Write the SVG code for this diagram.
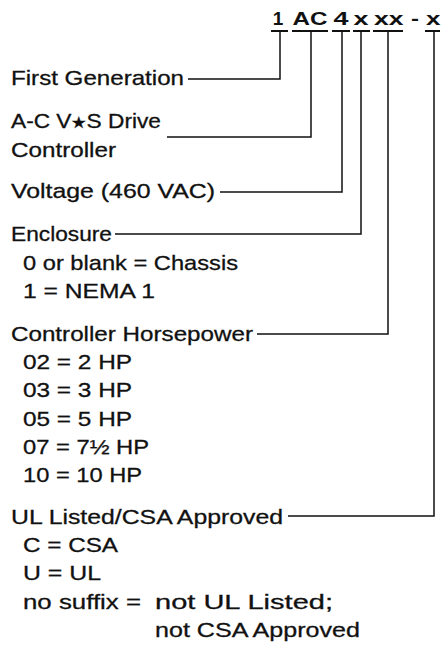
<svg xmlns="http://www.w3.org/2000/svg" width="442" height="657" viewBox="0 0 442 657">
<style>
.t{font-family:"Liberation Sans",Arial,sans-serif;font-size:21px;fill:#111;stroke:#111;stroke-width:0.3}
.h{font-family:"Liberation Sans",Arial,sans-serif;font-size:19px;font-weight:bold;fill:#111}
.c{stroke:#111;stroke-width:1.5;fill:none}
.u{stroke:#111;stroke-width:2;fill:none}
.s{font-size:16px}
</style>
<rect width="442" height="657" fill="#fff"/>
<g id="header">
<text class="h" x="278" y="25" text-anchor="middle">1</text>
<text class="h" x="292.5" y="25" textLength="35" lengthAdjust="spacingAndGlyphs">AC</text>
<text class="h" x="333.5" y="25" textLength="15" lengthAdjust="spacingAndGlyphs">4</text>
<text class="h" x="353.5" y="25" textLength="15" lengthAdjust="spacingAndGlyphs">x</text>
<text class="h" x="374" y="25" textLength="29.5" lengthAdjust="spacingAndGlyphs">xx</text>
<text class="h" x="411" y="25" textLength="8" lengthAdjust="spacingAndGlyphs">-</text>
<text class="h" x="426" y="25" textLength="14.5" lengthAdjust="spacingAndGlyphs">x</text>
<path class="u" d="M271 31H288M292 31H328M332 31H350M353 31H370M373 31H403M425 31H440"/>
</g>
<g id="connectors">
<path class="c" d="M188 79H280V31"/>
<path class="c" d="M167 137H311V31"/>
<path class="c" d="M220 192H342V31"/>
<path class="c" d="M115 234H361V31"/>
<path class="c" d="M257 334H388V31"/>
<path class="c" d="M288 516H434V31"/>
</g>
<g id="first-generation"><text class="t" x="11" y="85" textLength="173" lengthAdjust="spacingAndGlyphs">First Generation</text></g>
<g id="drive-controller"><text class="t" x="11" y="128" textLength="150" lengthAdjust="spacingAndGlyphs">A-C V<tspan class="s">★</tspan>S Drive</text><text class="t" x="11" y="157" textLength="105" lengthAdjust="spacingAndGlyphs">Controller</text></g>
<g id="voltage"><text class="t" x="11" y="198" textLength="204" lengthAdjust="spacingAndGlyphs">Voltage (460 VAC)</text></g>
<g id="enclosure"><text class="t" x="11" y="241" textLength="101" lengthAdjust="spacingAndGlyphs">Enclosure</text><text class="t" x="23" y="269.5" textLength="215" lengthAdjust="spacingAndGlyphs">0 or blank = Chassis</text><text class="t" x="23" y="298" textLength="132" lengthAdjust="spacingAndGlyphs">1 = NEMA 1</text></g>
<g id="horsepower"><text class="t" x="11" y="340.5" textLength="242" lengthAdjust="spacingAndGlyphs">Controller Horsepower</text><text class="t" x="23" y="368.8" textLength="109" lengthAdjust="spacingAndGlyphs">02 = 2 HP</text><text class="t" x="23" y="397" textLength="109" lengthAdjust="spacingAndGlyphs">03 = 3 HP</text><text class="t" x="23" y="425.5" textLength="109" lengthAdjust="spacingAndGlyphs">05 = 5 HP</text><text class="t" x="23" y="453.8" textLength="126" lengthAdjust="spacingAndGlyphs">07 = 7½ HP</text><text class="t" x="23" y="482" textLength="119" lengthAdjust="spacingAndGlyphs">10 = 10 HP</text></g>
<g id="approval"><text class="t" x="11" y="523.5" textLength="272" lengthAdjust="spacingAndGlyphs">UL Listed/CSA Approved</text><text class="t" x="23" y="551.8" textLength="95" lengthAdjust="spacingAndGlyphs">C = CSA</text><text class="t" x="23" y="580" textLength="78" lengthAdjust="spacingAndGlyphs">U = UL</text><text class="t" x="23" y="608.5" textLength="118" lengthAdjust="spacingAndGlyphs">no suffix =</text><text class="t" x="155" y="608.5" textLength="178" lengthAdjust="spacingAndGlyphs">not UL Listed;</text><text class="t" x="155" y="636.8" textLength="205" lengthAdjust="spacingAndGlyphs">not CSA Approved</text></g>
</svg>
